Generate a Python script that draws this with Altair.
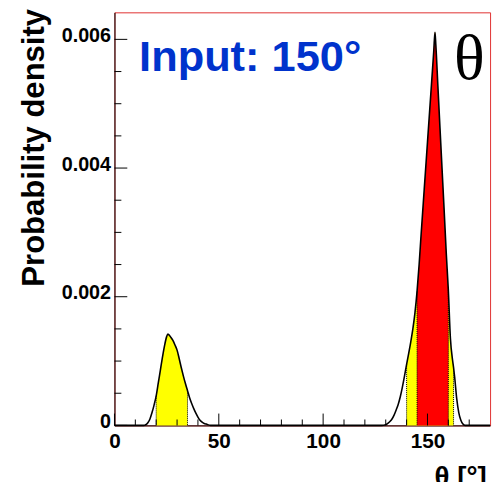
import altair as alt
import pandas as pd

# ---- data ----
theta_deg = [0, 10, 14, 15, 16, 17, 18, 19, 20, 21, 22, 23, 24, 25, 25.6, 26, 27, 28, 29, 30,
             31, 32, 33, 34, 35, 36, 37, 38, 39, 40, 41, 42, 43, 44, 46, 60, 100, 128,
             130, 131, 132, 133, 134, 135, 136, 137, 138, 139, 140, 141, 142, 143, 144, 145,
             146, 147, 148, 149, 150, 151, 152, 153, 153.6, 154, 155, 156, 157, 158, 159, 160,
             161, 162, 162.5, 163, 164, 165, 166, 167, 168, 180]
density = [0, 0, 0, 0.00001, 0.00004, 0.0001, 0.0002, 0.00032, 0.00046, 0.00066, 0.00086,
           0.00106, 0.00124, 0.00138, 0.00142, 0.00141, 0.00137, 0.00132, 0.00125, 0.00117,
           0.00104, 0.0009, 0.00077, 0.00065, 0.00054, 0.00043, 0.00034, 0.00026, 0.00019,
           0.00013, 0.00008, 0.00005, 0.00003, 0.00002, 0, 0, 0, 0,
           0.00001, 0.00003, 0.00006, 0.0001, 0.00016, 0.00024, 0.00033, 0.00045, 0.0006,
           0.00077, 0.00095, 0.00112, 0.0013, 0.0015, 0.00175, 0.00208,
           0.0025, 0.00299, 0.00346, 0.00393, 0.0044, 0.00487, 0.00534, 0.00581, 0.00611,
           0.00592, 0.00527, 0.00462, 0.00398, 0.00334, 0.00268, 0.0021,
           0.00135, 0.00102, 0.0009, 0.00076, 0.00042, 0.0002, 0.00008, 0.00002, 0, 0]

yellow_ranges = [[20, 35], [140, 162.5]]
red_ranges = [[145, 160]]
band_edges = [20, 35, 140, 145, 160, 162.5]

x_major = [0, 50, 100, 150]
x_minor = [10, 20, 30, 40, 60, 70, 80, 90, 110, 120, 130, 140, 160, 170]
y_major = [0, 0.002, 0.004, 0.006]
y_minor = [0.0005, 0.001, 0.0015, 0.0025, 0.003, 0.0035, 0.0045, 0.005, 0.0055]

annotation = ["Input: 150°"]
variable_label = ["θ"]
x_title = "θ [°]"
y_title = "Probability density"

# ---- chart ----
W, H = 381, 419
FONT = "Liberation Sans"

curve = pd.DataFrame({"theta": theta_deg, "density": density})
x_scale = alt.Scale(domain=[0, 180], nice=False, zero=False)
y_scale = alt.Scale(domain=[0, 0.00642], nice=False)

x_axis = alt.Axis(values=x_major, ticks=False, grid=False, domainColor="black",
                  domainWidth=1, labelFont=FONT, labelFontWeight="bold",
                  labelFontSize=21, labelColor="black", labelPadding=5,
                  labelFlush=False, labelOverlap=False,
                  title=x_title, titleFont=FONT, titleFontSize=28,
                  titleFontWeight="bold", titleColor="black",
                  titleAlign="right", titleBaseline="top",
                  titleX=377, titleY=39)
y_axis = alt.Axis(values=y_major, ticks=False, grid=False, domainColor="black",
                  domainWidth=1, labelFont=FONT, labelFontWeight="bold",
                  labelFontSize=20, labelColor="black", labelPadding=4,
                  labelBaseline="alphabetic", labelOffset=2,
                  labelFlush=False, labelOverlap=False,
                  labelExpr="datum.value == 0 ? '0' : format(datum.value, '.3f')",
                  title=y_title, titleFont=FONT, titleFontSize=31.5,
                  titleFontWeight="bold", titleColor="black",
                  titleAngle=270, titleAlign="right", titleBaseline="alphabetic",
                  titleX=-72, titleY=-4)

x_enc = alt.X("theta:Q", scale=x_scale, axis=x_axis, title=x_title)
y_enc = alt.Y("density:Q", scale=y_scale, axis=y_axis, title=y_title)

layers = []
for lo, hi in yellow_ranges:
    layers.append(
        alt.Chart(curve).transform_filter(
            alt.FieldRangePredicate(field="theta", range=[lo, hi])
        ).mark_area(color="#ffff00", interpolate="monotone", opacity=1)
        .encode(x=x_enc, y=y_enc)
    )
for lo, hi in red_ranges:
    layers.append(
        alt.Chart(curve).transform_filter(
            alt.FieldRangePredicate(field="theta", range=[lo, hi])
        ).mark_area(color="#ff0000", interpolate="monotone", opacity=1)
        .encode(x=x_enc, y=y_enc)
    )

layers.append(
    alt.Chart(curve).transform_filter(
        alt.FieldOneOfPredicate(field="theta", oneOf=band_edges)
    ).mark_rule(color="black", strokeDash=[1, 1], strokeWidth=1)
    .encode(x=x_enc, y=y_enc, y2=alt.value(H))
)

layers.append(
    alt.Chart(curve).mark_line(color="black", strokeWidth=1.6, interpolate="monotone")
    .encode(x=x_enc, y=y_enc)
)

def xticks(vals, length):
    return alt.Chart(pd.DataFrame({"theta": vals})).mark_rule(color="black", strokeWidth=1).encode(
        x=x_enc, y=alt.value(H), y2=alt.value(H - length))

def yticks(vals, length):
    return alt.Chart(pd.DataFrame({"density": vals})).mark_rule(color="black", strokeWidth=1).encode(
        y=y_enc, x=alt.value(0), x2=alt.value(length))

layers += [xticks(x_major, 12), xticks(x_minor, 6), yticks(y_major, 13), yticks(y_minor, 7)]

layers.append(
    alt.Chart(pd.DataFrame({"label": annotation})).mark_text(
        font=FONT, fontWeight="bold", fontSize=44, color="#0033cc",
        align="left", baseline="alphabetic"
    ).encode(text="label:N", x=alt.value(25), y=alt.value(60))
)
layers.append(
    alt.Chart(pd.DataFrame({"label": variable_label})).mark_text(
        font="Liberation Serif", fontSize=65, color="black",
        align="center", baseline="alphabetic"
    ).encode(text="label:N", x=alt.value(360), y=alt.value(68))
)

chart = alt.layer(*layers).properties(
    width=W, height=H,
    padding={"left": 108, "top": 1, "right": 5, "bottom": 54},
    autosize="none",
).configure_view(stroke="#e03030", strokeWidth=1)

chart.save("out.html", embed_options={"renderer": "svg", "actions": False})
